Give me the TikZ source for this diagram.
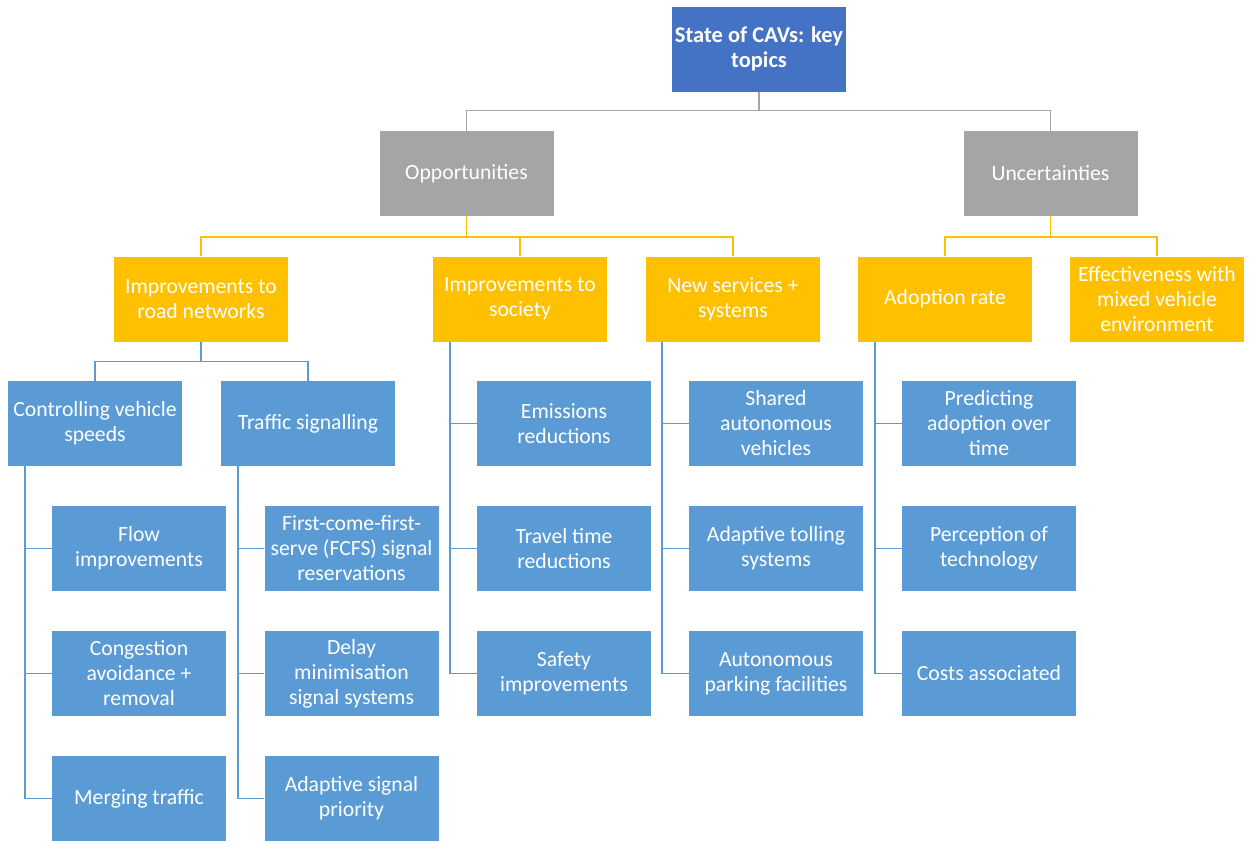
\documentclass[tikz,border=0pt]{standalone}
\usepackage{fontspec}
\setmainfont{Carlito}
\usetikzlibrary{calc}
\definecolor{topblue}{HTML}{4472C4}
\definecolor{gbox}{HTML}{A5A5A5}
\definecolor{obox}{HTML}{FFC000}
\definecolor{bbox}{HTML}{5B9BD5}
\begin{document}
\begin{tikzpicture}[x=1pt,y=-1pt,
  box/.style={minimum width=174pt,minimum height=85pt,inner sep=0pt,align=center,text=white,
    font=\fontsize{21.7}{25}\selectfont},
  topbox/.style={box,fill=topblue,font=\bfseries\fontsize{22.5}{25}\selectfont},
  graybox/.style={box,fill=gbox},
  orbox/.style={box,fill=obox},
  blbox/.style={box,fill=bbox},
  gl/.style={draw=gbox,line width=1.5pt},
  ol/.style={draw=obox,line width=1.5pt},
  bl/.style={draw=bbox,line width=1.5pt}]
\useasboundingbox (0,0) rectangle (1257,841);
\fill[white] (0,0) rectangle (1257,841);
% nodes
\node[topbox] (top) at (759,49) {State of CAVs: key\\topics};
\node[graybox] (opp) at (466.5,173.5) {Opportunities};
\node[graybox] (unc) at (1050.5,173.5) {Uncertainties};
\node[orbox] (road) at (201,299) {Improvements to\\road networks};
\node[orbox] (soc) at (520,299) {Improvements to\\society};
\node[orbox] (new) at (733,299) {New services +\\systems};
\node[orbox] (adopt) at (945,299) {Adoption rate};
\node[orbox] (eff) at (1157,299) {Effectiveness with\\mixed vehicle\\environment};
\node[blbox] (ctrl) at (95,423.5) {Controlling vehicle\\speeds};
\node[blbox] (traf) at (308,423.5) {Traffic signalling};
\node[blbox] (flow) at (139,548.5) {Flow\\improvements};
\node[blbox] (cong) at (139,673.5) {Congestion\\avoidance +\\removal};
\node[blbox] (merge) at (139,798.5) {Merging traffic};
\node[blbox] (fcfs) at (351.5,548.5) {First-come-first-\\serve (FCFS) signal\\reservations};
\node[blbox] (delay) at (351.5,673.5) {Delay\\minimisation\\signal systems};
\node[blbox] (adsig) at (351.5,798.5) {Adaptive signal\\priority};
\node[blbox] (emis) at (564,423.5) {Emissions\\reductions};
\node[blbox] (travel) at (564,548.5) {Travel time\\reductions};
\node[blbox] (safety) at (564,673.5) {Safety\\improvements};
\node[blbox] (shared) at (776,423.5) {Shared\\autonomous\\vehicles};
\node[blbox] (toll) at (776,548.5) {Adaptive tolling\\systems};
\node[blbox] (park) at (776,673.5) {Autonomous\\parking facilities};
\node[blbox] (pred) at (989,423.5) {Predicting\\adoption over\\time};
\node[blbox] (perc) at (989,548.5) {Perception of\\technology};
\node[blbox] (cost) at (989,673.5) {Costs associated};
% connectors
\draw[gl] (top.south) -- ++(0,19) -| (opp.north);
\draw[gl] (top.south) -- ++(0,19) -| (unc.north);
\draw[ol] (opp.south) -- ++(0,21) -| (road.north);
\draw[ol] (opp.south) -- ++(0,21) -| (soc.north);
\draw[ol] (opp.south) -- ++(0,21) -| (new.north);
\draw[ol] (unc.south) -- ++(0,21) -| (adopt.north);
\draw[ol] (unc.south) -- ++(0,21) -| (eff.north);
\draw[bl] (road.south) -- ++(0,20) -| (ctrl.north);
\draw[bl] (road.south) -- ++(0,20) -| (traf.north);
\coordinate (c1) at ($(ctrl.south west)+(17,0)$);
\coordinate (c2) at ($(traf.south west)+(17,0)$);
\coordinate (c3) at ($(soc.south west)+(17,0)$);
\coordinate (c4) at ($(new.south west)+(16,0)$);
\coordinate (c5) at ($(adopt.south west)+(17,0)$);
\draw[bl] (c1) |- (flow.west); \draw[bl] (c1) |- (cong.west); \draw[bl] (c1) |- (merge.west);
\draw[bl] (c2) |- (fcfs.west); \draw[bl] (c2) |- (delay.west); \draw[bl] (c2) |- (adsig.west);
\draw[bl] (c3) |- (emis.west); \draw[bl] (c3) |- (travel.west); \draw[bl] (c3) |- (safety.west);
\draw[bl] (c4) |- (shared.west); \draw[bl] (c4) |- (toll.west); \draw[bl] (c4) |- (park.west);
\draw[bl] (c5) |- (pred.west); \draw[bl] (c5) |- (perc.west); \draw[bl] (c5) |- (cost.west);
\end{tikzpicture}
\end{document}
